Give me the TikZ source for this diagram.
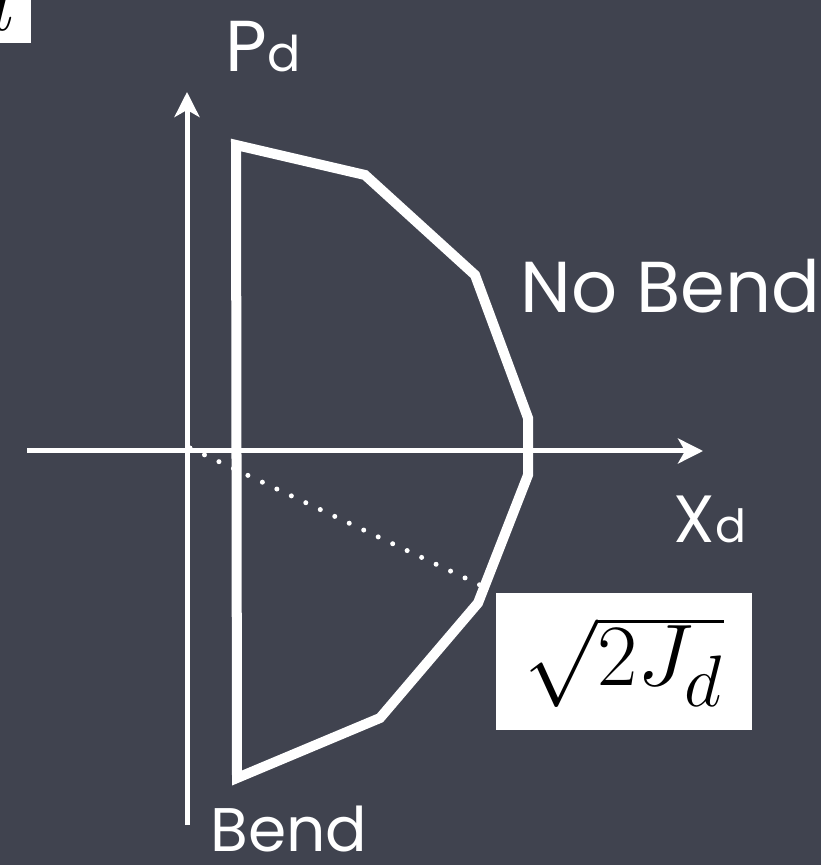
\documentclass[tikz,border=0pt]{standalone}
\usepackage[no-math]{fontspec}
\setmainfont{Poppins}
\usetikzlibrary{arrows.meta}
\definecolor{slate}{RGB}{64,67,79}

\begin{document}
\begin{tikzpicture}[
    x=0.01cm, y=-0.01cm,
    axis/.style={white, line width=0.05cm, -{Stealth[length=0.25cm, width=0.25cm, inset=0.07cm]}},
    curve/.style={white, line width=0.1cm},
    dots/.style={white, line width=0.05cm, line cap=round, dash pattern=on 0pt off 0.16cm},
    lbl/.style={white, anchor=base west, inner sep=0pt, font=\fontsize{20.5}{24}\selectfont},
  ]
    % Background
    \fill[slate] (0,0) rectangle (821,865);
    \useasboundingbox (0,0) rectangle (821,865);

    % Corner box
    \begin{scope}
      \clip (0,0) rectangle (31,43);
      \fill[white] (0,0) rectangle (31,43);
      \node[anchor=base east, inner sep=0pt, font=\fontsize{28}{32}\selectfont] (corner) at (15,31) {$u$};
    \end{scope}

    % Axes
    \coordinate (xl) at (27,451);
    \coordinate (xr) at (703,451);
    \coordinate (yb) at (187,825);
    \coordinate (yt) at (187,92);
    \draw[axis] (xl) -- (xr);
    \draw[axis] (yb) -- (yt);

    % Separatrix
    \coordinate (c1) at (236,145);
    \coordinate (c2) at (365,175);
    \coordinate (c3) at (475,275);
    \coordinate (c4) at (528,418);
    \coordinate (c5) at (528,475);
    \coordinate (c6) at (478,603);
    \coordinate (c7) at (380,718);
    \coordinate (c8) at (237,778);
    \draw[curve] (c1) -- (c2) -- (c3) -- (c4) -- (c5) -- (c6) -- (c7) -- (c8) -- cycle;

    % Radius
    \coordinate (o) at (190,448);
    \coordinate (rho) at (480,585);
    \draw[dots] (o) -- (rho);

    % Labels
    \node[lbl] (pd) at (225,72) {P{\fontsize{14}{16}\selectfont d}};
    \node[lbl] (nobend) at (520,313) {No Bend};
    \node[lbl, font=\fontsize{19}{22}\selectfont] (xd) at (673,542) {X{\fontsize{13}{15}\selectfont d}};
    \node[lbl, font=\fontsize{17.5}{20}\selectfont] (bend) at (210,851) {Bend};

    % Action box
    \node[fill=white, minimum width=2.56cm, minimum height=1.37cm, inner sep=0pt,
      font=\fontsize{28.5}{32}\selectfont] (jbox) at (624,661.5) {$\sqrt{2J_d}$};
  \end{tikzpicture}
\end{document}
